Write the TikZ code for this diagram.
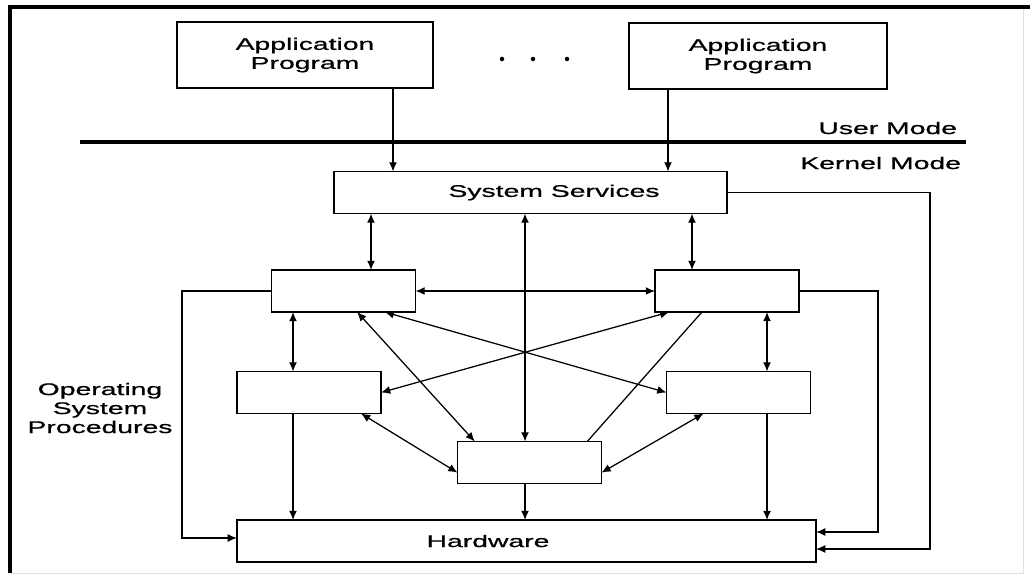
\documentclass[tikz,border=0pt]{standalone}
\usepackage{fontspec}
\setmainfont{Liberation Sans}[FakeStretch=1.68, FakeBold=0.8]
\usetikzlibrary{arrows.meta}
\tikzset{
  box/.style={draw, line width=1.1pt, inner sep=0pt, outer sep=0pt, minimum height=1.05cm},
  proc/.style={box, minimum width=3.6cm},
  conn/.style={line width=0.9pt},
  oneway/.style={conn, ->},
  twoway/.style={conn, <->}
}
\begin{document}
\begin{tikzpicture}[x=0.025cm, y=-0.025cm, >={Latex[length=2.3mm,width=2mm]},
    every node/.style={font=\fontsize{12}{13.5}\selectfont}]
  \useasboundingbox (0,0) rectangle (1030,575);
  \draw[gray!25] (10,573) -- (1023,573) -- (1023,7);
  \draw[line width=2.2pt] (10,573) -- (10,7) -- (1030,7);

  \node[box, minimum width=6.4cm, minimum height=1.65cm, align=center] (app1) at (305,55) {Application\\Program};
  \node[box, minimum width=6.45cm, minimum height=1.65cm, align=center] (app2) at (758,56) {Application\\Program};
  \foreach \x in {502,533,567}
    \fill (\x,59) circle (1.6pt);

  \draw[line width=3.5pt] (80,142) -- (966,142);
  \node[anchor=east] (user) at (962,128) {User Mode};
  \node[anchor=east] (kernel) at (966,163) {Kernel Mode};

  \node[box, minimum width=9.825cm] (ss) at (530.5,192.5) {};
  \node (sstext) at (554,192.5) {System Services};
  \node[proc] (ul) at (343.5,291) {};
  \node[proc] (ur) at (727,291) {};
  \node[proc] (ml) at (309,392.5) {};
  \node[proc] (mr) at (738.5,392.5) {};
  \node[proc] (bc) at (529.5,462.5) {};
  \node[box, minimum width=14.475cm] (hw) at (526.5,541) {};
  \node (hwtext) at (488,541) {Hardware};
  \node[align=center] (osp) at (100,408) {Operating\\System\\Procedures};

  \coordinate (xa) at (393,0);
  \coordinate (xb) at (668,0);
  \coordinate (x1) at (293,0);
  \coordinate (x2) at (371,0);
  \coordinate (x3) at (525,0);
  \coordinate (x4) at (692,0);
  \coordinate (x5) at (767,0);
  \coordinate (lbus) at (182,538);
  \coordinate (rbus) at (878,532);
  \coordinate (sbus) at (930,549);

  \draw[oneway] (app1.south -| xa) -- (ss.north -| xa);
  \draw[oneway] (app2.south -| xb) -- (ss.north -| xb);
  \draw[twoway] (ss.south -| x2) -- (ul.north -| x2);
  \draw[twoway] (ss.south -| x3) -- (bc.north -| x3);
  \draw[twoway] (ss.south -| x4) -- (ur.north -| x4);
  \draw[twoway] (ul.east) -- (ur.west);
  \draw[twoway] (ul.south -| x1) -- (ml.north -| x1);
  \draw[twoway] (ur.south -| x5) -- (mr.north -| x5);
  \draw[oneway] (ml.south -| x1) -- (hw.north -| x1);
  \draw[oneway] (mr.south -| x5) -- (hw.north -| x5);
  \draw[oneway] (bc.south -| x3) -- (hw.north -| x3);
  \draw[twoway] (ul.-57) -- (bc.159);
  \draw[twoway] (ul.-27) -- (mr.west);
  \draw[twoway] (ur.-160) -- (ml.east);
  \draw[twoway] (ml.-22) -- (bc.188);
  \draw[twoway] (mr.-149) -- (bc.-8);
  \draw[conn] (bc.20) -- (ur.220);
  \draw[oneway] (ul.west) -| (lbus) -- (hw.west |- lbus);
  \draw[oneway] (ur.east) -| (rbus) -- (hw.east |- rbus);
  \draw[oneway] (ss.east) -| (sbus) -- (hw.east |- sbus);
\end{tikzpicture}
\end{document}
